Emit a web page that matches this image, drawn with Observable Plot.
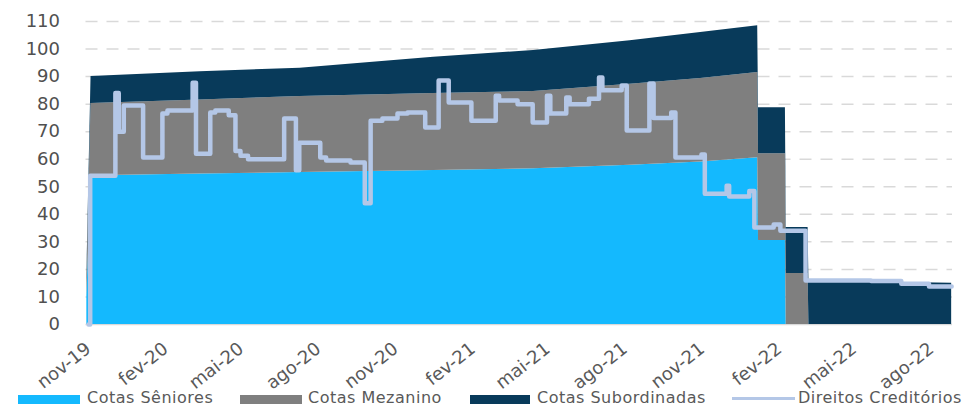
<!DOCTYPE html>
<html><head><meta charset="utf-8">
<script src="https://cdn.jsdelivr.net/npm/d3@7"></script>
<script src="https://cdn.jsdelivr.net/npm/@observablehq/plot@0.6"></script>
<style>
body{margin:0;background:#fff;font-family:"DejaVu Sans",sans-serif;}
#wrap{position:relative;width:966px;height:406px;overflow:hidden;background:#fff;}
#legend{position:absolute;left:0;top:389px;width:966px;height:17px;font-size:16px;color:#595959;}
.sw{position:absolute;top:6px;height:9px;}
.ln{position:absolute;top:8px;height:3px;}
.lb{position:absolute;top:0;line-height:17px;white-space:nowrap;letter-spacing:0.5px;}
</style></head>
<body><div id="wrap"><div id="chart"></div><div id="legend"></div></div>
<script>
// ---- data ----
const seriesNames = ["Cotas Sêniores", "Cotas Mezanino", "Cotas Subordinadas"];
const seriesColors = ["#14B9FE", "#7F7F7F", "#083A5A"];
const lineName = "Direitos Creditórios";
const lineColor = "#B4C7E7";

const stackDates = ["2019-10-30","2019-11-04","2020-03-13","2020-07-10","2020-12-16","2021-04-14","2021-08-07","2021-10-30","2022-01-06","2022-01-07","2022-02-08","2022-02-09","2022-03-07","2022-03-08","2022-08-25"];
const senior = [10, 54, 54.6, 55.2, 55.9, 56.5, 57.8, 59, 60.5, 30.5, 30.5, 0, 0, 0, 0];
const mezanino = [5, 26.2, 26.9, 27.6, 28, 28.1, 29.4, 30.3, 31, 31.5, 31.5, 18.5, 18.5, 0, 0];
const subordinada = [3, 9.8, 10.3, 10.2, 13.1, 14.9, 15.8, 16.7, 17, 16.7, 16.7, 16.7, 16.7, 15.8, 15];

const lineDates = ["2019-11-01","2019-11-03","2019-12-03","2019-12-07","2019-12-13","2020-01-05","2020-01-28","2020-02-03","2020-03-04","2020-03-08","2020-03-25","2020-03-31","2020-04-16","2020-04-24","2020-04-30","2020-05-09","2020-06-21","2020-07-05","2020-07-09","2020-08-03","2020-08-10","2020-09-08","2020-09-25","2020-10-02","2020-10-16","2020-11-03","2020-11-15","2020-12-06","2020-12-22","2021-01-03","2021-01-30","2021-02-28","2021-03-04","2021-03-26","2021-04-13","2021-04-30","2021-05-04","2021-05-23","2021-05-27","2021-06-19","2021-07-01","2021-07-05","2021-07-28","2021-08-03","2021-08-30","2021-09-04","2021-09-25","2021-09-30","2021-10-31","2021-11-04","2021-11-30","2021-12-03","2021-12-27","2022-01-02","2022-01-25","2022-02-02","2022-03-04","2022-05-21","2022-06-26","2022-07-29","2022-08-25"];
const lineValues = [0, 54, 84, 70, 79.5, 60.6, 76.6, 77.7, 87.8, 62, 77, 77.7, 76, 63, 61.3, 60, 74.8, 56, 66, 60.6, 59.5, 58.8, 44, 74, 74.8, 76.6, 77, 71.5, 88.6, 80.6, 74, 83, 81.3, 80, 73.3, 83, 76.6, 82.4, 80, 82, 89.7, 85, 86.8, 70.4, 87.5, 75, 77, 60.6, 61.7, 47.5, 50.4, 46.5, 48.5, 35.2, 36.3, 34, 16, 15.8, 14.8, 13.8, 13.8];

const yTicks = [0, 10, 20, 30, 40, 50, 60, 70, 80, 90, 100, 110];
const xTickDates = ["2019-11-01","2020-02-01","2020-05-01","2020-08-01","2020-11-01","2021-02-01","2021-05-01","2021-08-01","2021-11-01","2022-02-01","2022-05-01","2022-08-01"];
const xTickLabels = ["nov-19","fev-20","mai-20","ago-20","nov-20","fev-21","mai-21","ago-21","nov-21","fev-22","mai-22","ago-22"];

// ---- build tables ----
const seriesValues = [senior, mezanino, subordinada];
const stackRows = [];
seriesNames.forEach((s, k) => stackDates.forEach((d, i) => stackRows.push({date: new Date(d), series: s, value: seriesValues[k][i]})));
const lineRows = lineDates.map((d, i) => ({date: new Date(d), value: lineValues[i]}));
const tickDates = xTickDates.map(d => new Date(d));

const chart = Plot.plot({
  width: 966, height: 387,
  marginLeft: 85.5, marginRight: 14, marginTop: 21, marginBottom: 63,
  style: {fontFamily: '"DejaVu Sans", sans-serif', background: "#fff", color: "#595959", overflow: "visible"},
  x: {type: "utc", domain: [new Date("2019-10-29"), new Date("2022-08-26")]},
  y: {domain: [0, 110]},
  color: {domain: seriesNames, range: seriesColors},
  marks: [
    Plot.ruleY(yTicks.filter(t => t > 0), {stroke: "#D9D9D9", strokeWidth: 1.5, strokeDasharray: "12,9"}),
    Plot.ruleY([0], {stroke: "#D9D9D9", strokeWidth: 1.5}),
    Plot.areaY(stackRows, {x: "date", y: "value", z: "series", fill: "series", order: seriesNames}),
    Plot.line(lineRows, {x: "date", y: "value", stroke: lineColor, strokeWidth: 4.5, curve: "step-after", strokeLinejoin: "round", strokeLinecap: "round"}),
    Plot.axisY(yTicks, {tickSize: 0, tickPadding: 26, fontSize: 18, fill: "#505050", letterSpacing: 2, label: null}),
    Plot.axisX(tickDates, {tickSize: 0, tickPadding: 22, tickRotate: -38, fontSize: 18, fill: "#595959", letterSpacing: 1, label: null,
      tickFormat: d => xTickLabels[tickDates.findIndex(t => +t === +d)]})
  ]
});
document.getElementById("chart").appendChild(chart);

// ---- legend ----
const legend = document.getElementById("legend");
const legendLayout = [[18, 62, 87], [240, 62, 308], [470, 60, 537]];
seriesNames.forEach((s, k) => {
  const sw = document.createElement("div");
  sw.className = "sw"; sw.style.left = legendLayout[k][0] + "px"; sw.style.width = legendLayout[k][1] + "px"; sw.style.background = seriesColors[k];
  const lb = document.createElement("div");
  lb.className = "lb"; lb.style.left = legendLayout[k][2] + "px"; lb.textContent = s;
  legend.appendChild(sw); legend.appendChild(lb);
});
const ln = document.createElement("div");
ln.className = "ln"; ln.style.left = "732px"; ln.style.width = "63px"; ln.style.background = lineColor;
const lb = document.createElement("div");
lb.className = "lb"; lb.style.left = "798px"; lb.textContent = lineName;
legend.appendChild(ln); legend.appendChild(lb);
</script></body></html>
